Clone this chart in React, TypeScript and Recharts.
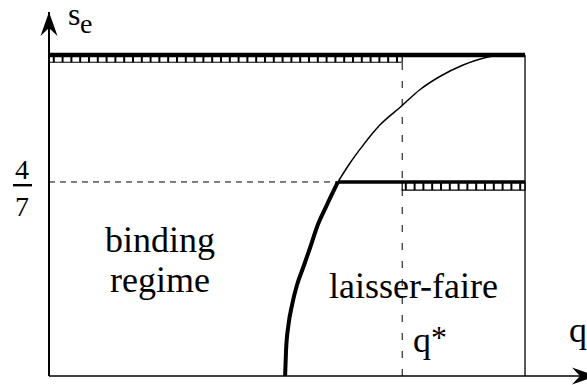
import React from "react";
import {
  LineChart,
  Line,
  XAxis,
  YAxis,
  ReferenceLine,
  ReferenceArea,
  ReferenceDot,
} from "recharts";

// s_e as a function of q, thick (binding) branch and thin continuation
const bindingQ = [0.496, 0.498, 0.503, 0.5105, 0.521, 0.5336, 0.5483, 0.563, 0.5819, 0.607];
const bindingS = [0, 0.0766, 0.15, 0.209, 0.268, 0.318, 0.377, 0.439, 0.498, 4 / 7];
const upperQ = [0.607, 0.632, 0.66, 0.695, 0.739, 0.779, 0.821, 0.87, 0.912, 0.954, 1];
const upperS = [4 / 7, 0.6265, 0.68, 0.739, 0.793, 0.843, 0.882, 0.916, 0.936, 0.945, 0.945];

const S_MAX = 0.945;
const S_KINK = 4 / 7;
const Q_KINK = 0.607;
const Q_STAR = 0.742;
const Q_MAX = 1;
const Q_END = 1.126;
const S_END = 1.072;

const toRows = (qs: number[], ss: number[]) => qs.map((q, i) => ({ q, s: ss[i] }));

const bindingCurve = toRows(bindingQ, bindingS);
const upperCurve = toRows(upperQ, upperS);
const topLevel = toRows([0, Q_MAX], [S_MAX, S_MAX]);
const kinkLevel = toRows([Q_KINK, Q_MAX], [S_KINK, S_KINK]);

const FONT_CSS = `
@font-face { font-family: "PlotSerif"; src: local("Liberation Serif"), local("LiberationSerif"), local("Times New Roman"); }
.plot-text text, .plot-text tspan { font-family: "PlotSerif", "Times New Roman", Times, "Liberation Serif", serif !important; }
`;

const upArrow = (p: any) => (
  <path
    d={`M${p.cx},${p.cy} L${p.cx + 8.5},${p.cy + 24} L${p.cx},${p.cy + 16} L${p.cx - 8.5},${p.cy + 24} Z`}
    fill="#000"
  />
);

const rightArrow = (p: any) => {
  const t = p.cx + 11;
  return (
    <path
      d={`M${t},${p.cy} L${t - 24},${p.cy - 8.5} L${t - 16},${p.cy} L${t - 24},${p.cy + 8.5} Z`}
      fill="#000"
    />
  );
};

// text layer drawn over the plot
function Labels() {
  return (
    <svg
      className="plot-text"
      width={587}
      height={385}
      style={{ position: "absolute", left: 0, top: 0, pointerEvents: "none" }}
    >
      <g fill="#000">
        <text x={68} y={25} fontSize={32}>
          s<tspan fontSize={28} dy={8}>e</tspan>
        </text>
        <text x={22} y={179} fontSize={28} textAnchor="middle">4</text>
        <rect x={13} y={184} width={19} height={2.4} />
        <text x={22} y={216} fontSize={28} textAnchor="middle">7</text>
        <text x={160} y={252} fontSize={36} textAnchor="middle">binding</text>
        <text x={160} y={292} fontSize={36} textAnchor="middle">regime</text>
        <text x={413} y={298} fontSize={36} textAnchor="middle">laisser-faire</text>
        <text x={413} y={352} fontSize={36}>
          q<tspan fontSize={32} dy={-4}>*</tspan>
        </text>
        <text x={569} y={342} fontSize={36}>q</text>
      </g>
    </svg>
  );
}

export default function App() {
  return (
    <div style={{ position: "absolute", left: 0, top: 0, width: 587, height: 385, background: "#fff" }}>
      <style>{FONT_CSS}</style>
      <LineChart width={587} height={385} margin={{ top: 12, right: 2, left: 0, bottom: 0 }}>
        <defs>
          <pattern id="hatch" patternUnits="userSpaceOnUse" width={8.8} height={10}>
            <rect x={0} y={0} width={8.8} height={10} fill="#fff" />
            <rect x={0} y={0} width={2} height={10} fill="#000" />
          </pattern>
        </defs>
        <XAxis
          type="number"
          dataKey="q"
          domain={[0, Q_END]}
          allowDataOverflow
          ticks={[]}
          tick={false}
          tickLine={false}
          height={9}
          axisLine={{ stroke: "#000", strokeWidth: 1.6 }}
        />
        <YAxis
          type="number"
          dataKey="s"
          domain={[0, S_END]}
          allowDataOverflow
          ticks={[]}
          tick={false}
          tickLine={false}
          width={49}
          axisLine={{ stroke: "#000", strokeWidth: 2 }}
        />

        <ReferenceArea
          x1={0}
          x2={Q_STAR}
          y1={S_MAX - 0.021}
          y2={S_MAX}
          fill="url(#hatch)"
          fillOpacity={1}
          stroke="#000"
          strokeWidth={1.2}
        />
        <ReferenceArea
          x1={Q_STAR}
          x2={Q_MAX}
          y1={S_KINK - 0.024}
          y2={S_KINK}
          fill="url(#hatch)"
          fillOpacity={1}
          stroke="#000"
          strokeWidth={1.2}
        />

        <ReferenceLine
          segment={[{ x: 0, y: S_KINK }, { x: Q_KINK, y: S_KINK }]}
          stroke="#000"
          strokeWidth={1}
          strokeDasharray="6 5"
        />
        <ReferenceLine
          segment={[{ x: Q_STAR, y: 0 }, { x: Q_STAR, y: S_MAX }]}
          stroke="#000"
          strokeWidth={1}
          strokeDasharray="7 11"
        />
        <ReferenceLine
          segment={[{ x: Q_MAX, y: 0 }, { x: Q_MAX, y: S_MAX }]}
          stroke="#000"
          strokeWidth={1.3}
        />

        <Line data={upperCurve} dataKey="s" type="monotone" stroke="#000" strokeWidth={1.5} dot={false} isAnimationActive={false} />
        <Line data={bindingCurve} dataKey="s" type="monotone" stroke="#000" strokeWidth={4} dot={false} isAnimationActive={false} />
        <Line data={topLevel} dataKey="s" type="linear" stroke="#000" strokeWidth={4.5} dot={false} isAnimationActive={false} />
        <Line data={kinkLevel} dataKey="s" type="linear" stroke="#000" strokeWidth={3.5} dot={false} isAnimationActive={false} />

        <ReferenceDot x={0} y={S_END} r={0} shape={upArrow} />
        <ReferenceDot x={Q_END} y={0} r={0} shape={rightArrow} />
      </LineChart>
      <Labels />
    </div>
  );
}
